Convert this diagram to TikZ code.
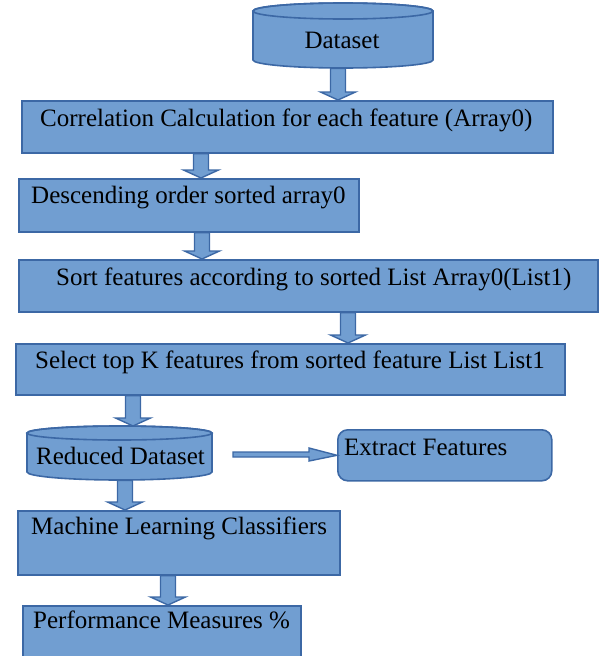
\documentclass[tikz,border=0pt]{standalone}
\usepackage{fontspec}
\setmainfont{Liberation Serif}
\usetikzlibrary{calc}
\definecolor{boxfill}{RGB}{113,158,209}
\definecolor{boxline}{RGB}{60,104,165}
\begin{document}
\begin{tikzpicture}[x=1pt,y=1pt,
  boxst/.style={draw=boxline, fill=boxfill, line width=1.6pt, rectangle, inner sep=0pt, anchor=north west},
  hidden/.style={inner sep=0pt, anchor=north west},
  cyl/.style={draw=boxline, fill=boxfill, line width=1.6pt},
  txt/.style={anchor=base west, inner sep=0pt, font=\fontsize{25}{29}\selectfont, text=black},
  barrow/.style={draw=boxline, fill=boxfill, line width=1.4pt, line join=miter,
    to path={let \p1=(\tikztostart), \p2=(\tikztotarget) in
      (\x1-7.5pt,\y1) -- (\x1-7.5pt,\y2+8pt) -- (\x1-17.5pt,\y2+8pt) -- (\x1,\y2)
      -- (\x1+17.5pt,\y2+8pt) -- (\x1+7.5pt,\y2+8pt) -- (\x1+7.5pt,\y1) -- cycle}},
  harrow/.style={draw=boxline, fill=boxfill, line width=1.4pt, line join=miter,
    to path={let \p1=(\tikztostart), \p2=(\tikztotarget) in
      (\x1,\y1-2.5pt) -- (\x2-28pt,\y1-2.5pt) -- (\x2-28pt,\y1-6.5pt) -- (\x2,\y2)
      -- (\x2-28pt,\y1+6.5pt) -- (\x2-28pt,\y1+2.5pt) -- (\x1,\y1+2.5pt) -- cycle}}]
\useasboundingbox (0,0) rectangle (599,-656);

% Dataset cylinder
\node[hidden, minimum width=180pt, minimum height=65pt] (ds) at (253,-3) {};
\path[cyl] (253,-11) -- (253,-60) arc[start angle=180,end angle=360,x radius=90pt,y radius=8pt]
  -- (433,-11) arc[start angle=0,end angle=180,x radius=90pt,y radius=8pt] -- cycle;
\draw[boxline, line width=1.6pt] (343,-11) ellipse[x radius=90pt, y radius=8pt];
\node[txt, anchor=base] (dst) at (342,-48) {Dataset};

% boxes
\node[boxst, minimum width=531pt, minimum height=52pt] (b1) at (21,-100) {};
\node[txt] (b1t) at (40,-126) {Correlation Calculation for each feature (Array0)};

\node[boxst, minimum width=340pt, minimum height=53pt] (b2) at (18,-178) {};
\node[txt] (b2t) at (31,-203) {Descending order sorted array0};

\node[boxst, minimum width=579pt, minimum height=52pt] (b3) at (18,-259) {};
\node[txt] (b3t) at (56,-285) {Sort features according to sorted List Array0(List1)};

\node[boxst, minimum width=549pt, minimum height=51pt] (b4) at (15,-343) {};
\node[txt] (b4t) at (35,-368) {Select top K features from sorted feature List List1};

% Reduced Dataset cylinder
\node[hidden, minimum width=185pt, minimum height=54pt] (rd) at (27,-426) {};
\path[cyl] (27,-433) -- (27,-472) arc[start angle=180,end angle=360,x radius=92.5pt,y radius=8pt]
  -- (212,-433) arc[start angle=0,end angle=180,x radius=92.5pt,y radius=7pt] -- cycle;
\draw[boxline, line width=1.6pt] (119.5,-433) ellipse[x radius=92.5pt, y radius=7pt];
\node[txt] (rdt) at (36,-464) {Reduced Dataset};

% Extract features
\node[boxst, rounded corners=10pt, minimum width=214pt, minimum height=51pt] (ef) at (337,-429) {};
\node[txt] (eft) at (344,-455) {Extract Features};

\node[boxst, minimum width=322pt, minimum height=64pt] (ml) at (17,-510) {};
\node[txt] (mlt) at (31,-534) {Machine Learning Classifiers};

\node[boxst, minimum width=278pt, minimum height=60pt] (pm) at (22,-605) {};
\node[txt] (pmt) at (33,-628) {Performance Measures \%};

% arrows
\draw[barrow] (338,0 |- ds.south) to (338,0 |- b1.north);
\draw[barrow] (201,0 |- b1.south) to (201,0 |- b2.north);
\draw[barrow] (202,0 |- b2.south) to (202,0 |- b3.north);
\draw[barrow] (348,0 |- b3.south) to (348,0 |- b4.north);
\draw[barrow] (133,0 |- b4.south) to (133,0 |- rd.north);
\draw[barrow] (125,0 |- rd.south) to (125,0 |- ml.north);
\draw[barrow] (168,0 |- ml.south) to (168,0 |- pm.north);
\coordinate (hs) at (233,-454.5);
\draw[harrow] (hs) to (ef.west);
\end{tikzpicture}
\end{document}
